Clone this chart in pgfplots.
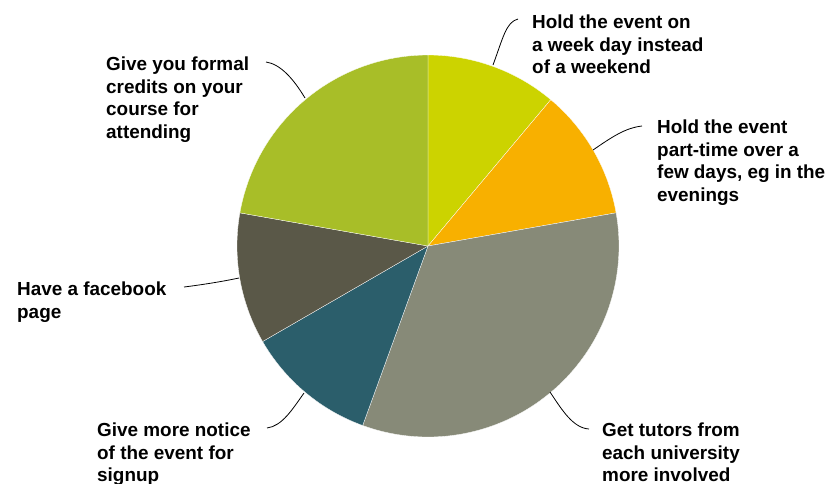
\documentclass[border=0pt]{standalone}
\usepackage{pgfplots}
\pgfplotsset{compat=1.18}
\usepackage{fontspec}
\setmainfont{Liberation Sans}
\definecolor{cWeek}{HTML}{CCD300}
\definecolor{cPart}{HTML}{F8B000}
\definecolor{cTutor}{HTML}{878A78}
\definecolor{cNotice}{HTML}{2B5E6B}
\definecolor{cFace}{HTML}{5A5848}
\definecolor{cCredit}{HTML}{A8BE28}
% slice values (clockwise from 12 o'clock)
\newcommand\vA{1}% Hold the event on a week day
\newcommand\vB{1}% part-time over a few days
\newcommand\vC{3}% tutors from each university
\newcommand\vD{1}% more notice
\newcommand\vE{1}% facebook page
\newcommand\vF{2}% formal credits
\pgfmathsetmacro\tot{\vA+\vB+\vC+\vD+\vE+\vF}
\pgfmathsetmacro\aA{360*\vA/\tot}
\pgfmathsetmacro\aB{\aA+360*\vB/\tot}
\pgfmathsetmacro\aC{\aB+360*\vC/\tot}
\pgfmathsetmacro\aD{\aC+360*\vD/\tot}
\pgfmathsetmacro\aE{\aD+360*\vE/\tot}
\pgfmathsetmacro\aF{\aE+360*\vF/\tot}
\tikzset{
  lbl/.style={anchor=north west, inner sep=0pt, align=left,
    font=\fontsize{18.9}{22.5}\selectfont\bfseries},
  slice/.style={draw=white, line width=0.3pt, samples=80, smooth},
  leader/.style={black, line width=0.8pt},
}
\begin{document}
\begin{tikzpicture}
\path[use as bounding box] (0,0) rectangle (830pt,483pt);
\begin{axis}[
  at={(0,0)}, anchor=south west,
  scale only axis, width=830pt, height=483pt,
  xmin=0, xmax=830, ymin=0, ymax=483, y dir=reverse,
  hide axis, clip=false,
]
\addplot[slice, fill=cWeek, domain=0:\aA] ({428+191*sin(x)},{246-191*cos(x)}) -- (axis cs:428,246) -- cycle;
\addplot[slice, fill=cPart, domain=\aA:\aB] ({428+191*sin(x)},{246-191*cos(x)}) -- (axis cs:428,246) -- cycle;
\addplot[slice, fill=cTutor, domain=\aB:\aC] ({428+191*sin(x)},{246-191*cos(x)}) -- (axis cs:428,246) -- cycle;
\addplot[slice, fill=cNotice, domain=\aC:\aD] ({428+191*sin(x)},{246-191*cos(x)}) -- (axis cs:428,246) -- cycle;
\addplot[slice, fill=cFace, domain=\aD:\aE] ({428+191*sin(x)},{246-191*cos(x)}) -- (axis cs:428,246) -- cycle;
\addplot[slice, fill=cCredit, domain=\aE:\aF] ({428+191*sin(x)},{246-191*cos(x)}) -- (axis cs:428,246) -- cycle;

% leader lines
\draw[leader] (axis cs:493,65) .. controls (axis cs:503,38) and (axis cs:506,22) .. (axis cs:518,19);
\draw[leader] (axis cs:593,150) .. controls (axis cs:612,137) and (axis cs:625,128) .. (axis cs:642,126);
\draw[leader] (axis cs:305,98) .. controls (axis cs:293,78) and (axis cs:280,64) .. (axis cs:266,62);
\draw[leader] (axis cs:239,278) .. controls (axis cs:220,282) and (axis cs:200,285) .. (axis cs:184,287);
\draw[leader] (axis cs:304,393) .. controls (axis cs:292,410) and (axis cs:282,426) .. (axis cs:267,428);
\draw[leader] (axis cs:550,392) .. controls (axis cs:562,410) and (axis cs:573,428) .. (axis cs:589,429);

% labels
\node[lbl] at (axis cs:532,15) {Hold the event on\\a week day instead\\of a weekend};
\node[lbl] at (axis cs:657,120) {Hold the event\\part-time over a\\few days, eg in the\\evenings};
\node[lbl] at (axis cs:106,57) {Give you formal\\credits on your\\course for\\attending};
\node[lbl] at (axis cs:17,282) {Have a facebook\\page};
\node[lbl] at (axis cs:97,423) {Give more notice\\of the event for\\signup};
\node[lbl] at (axis cs:602,423) {Get tutors from\\each university\\more involved};
\end{axis}
\end{tikzpicture}
\end{document}
